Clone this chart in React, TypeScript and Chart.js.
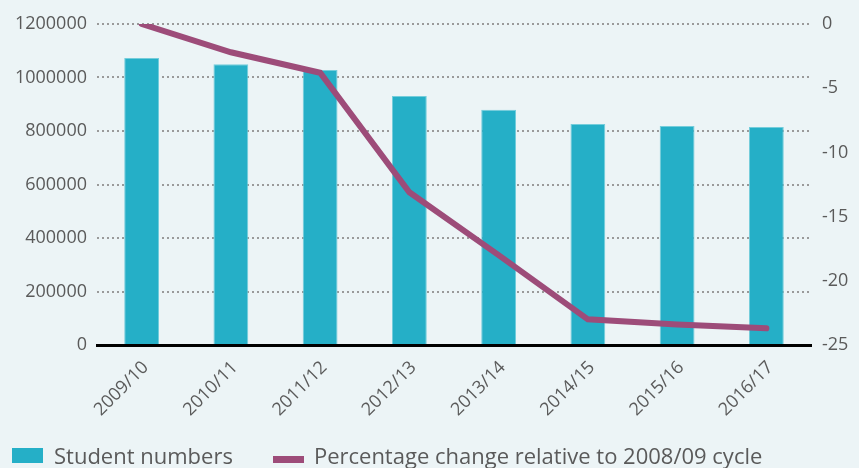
import React, { useEffect, useRef } from "react";
import { Chart, registerables } from "chart.js";

Chart.register(...registerables);

const categories = ["2009/10", "2010/11", "2011/12", "2012/13", "2013/14", "2014/15", "2015/16", "2016/17"];
const studentNumbers = [1073000, 1050000, 1028000, 931000, 879000, 826000, 819000, 815000];
const percentChange = [0, -2.2, -3.8, -13.1, -18.0, -23.0, -23.4, -23.7];
const leftTicks = { min: 0, max: 1200000, step: 200000 };
const rightTicks = { min: -25, max: 0, step: 5 };
const legendLabels = ["Student numbers", "Percentage change relative to 2008/09 cycle"];

const BG = "#ecf4f6";
const BAR = "#25afc7";
const LINE = "#9d4c79";
const TEXT = "#5a5a5a";
const FONT = "'Open Sans', sans-serif";

export default function App() {
  const ref = useRef<HTMLCanvasElement | null>(null);

  useEffect(() => {
    document.body.style.margin = "0";
    const ctx = ref.current!;
    const chart = new Chart(ctx, {
      type: "bar",
      data: {
        labels: categories,
        datasets: [
          {
            type: "line",
            label: legendLabels[1],
            data: percentChange,
            yAxisID: "y1",
            borderColor: LINE,
            backgroundColor: LINE,
            borderWidth: 6,
            borderCapStyle: "round",
            borderJoinStyle: "miter",
            pointRadius: 0,
            tension: 0,
            order: 0,
          } as any,
          {
            type: "bar",
            label: legendLabels[0],
            data: studentNumbers,
            yAxisID: "y",
            backgroundColor: BAR,
            borderColor: "#74cddb",
            borderWidth: 1,
            barPercentage: 0.5,
            categoryPercentage: 0.78,
            order: 1,
          } as any,
        ],
      },
      options: {
        animation: false,
        responsive: false,
        maintainAspectRatio: false,
        layout: { padding: { top: 24, left: 0, right: 0, bottom: 0 } },
        plugins: { legend: { display: false }, tooltip: { enabled: false } },
        scales: {
          x: {
            grid: { display: false, drawTicks: false },
            border: { display: true, color: "#000", width: 3 },
            ticks: {
              color: TEXT,
              font: { family: FONT, size: 18 },
              maxRotation: 45,
              minRotation: 45,
              padding: 12,
              labelOffset: 4,
            },
            afterFit: (s: any) => {
              s.height = 123;
            },
          },
          y: {
            position: "left",
            min: leftTicks.min,
            max: leftTicks.max,
            ticks: {
              stepSize: leftTicks.step,
              color: TEXT,
              font: { family: FONT, size: 18 },
              padding: 10,
              callback: (v: any) => String(v),
            },
            grid: {
              drawTicks: false,
              color: "#9a9a9a",
              lineWidth: 2,
            },
            border: { display: false, dash: [2, 3] },
            afterFit: (s: any) => {
              s.width = 97;
            },
          },
          y1: {
            position: "right",
            min: rightTicks.min,
            max: rightTicks.max,
            ticks: {
              stepSize: rightTicks.step,
              color: TEXT,
              font: { family: FONT, size: 18 },
              padding: 11,
              callback: (v: any) => String(v),
            },
            grid: { display: false, drawTicks: false },
            border: { display: false },
            afterFit: (s: any) => {
              s.width = 48;
            },
          },
        },
      },
    });
    return () => chart.destroy();
  }, []);

  return (
    <div style={{ position: "fixed", left: 0, top: 0, width: 859, height: 468, background: BG, overflow: "hidden" }}>
      <canvas ref={ref} width={859} height={468} style={{ position: "absolute", left: 0, top: 0, width: 859, height: 468 }} />
      <div style={{ position: "absolute", left: 12, top: 442, height: 26, display: "flex", alignItems: "center", fontFamily: FONT, fontSize: 22, color: TEXT, whiteSpace: "nowrap" }}>
        <span style={{ display: "inline-block", width: 31, height: 15, background: BAR, marginRight: 11 }} />
        <span>{legendLabels[0]}</span>
        <span style={{ display: "inline-block", width: 31, height: 7, background: LINE, marginLeft: 40, marginRight: 10, marginTop: 8 }} />
        <span>{legendLabels[1]}</span>
      </div>
    </div>
  );
}
